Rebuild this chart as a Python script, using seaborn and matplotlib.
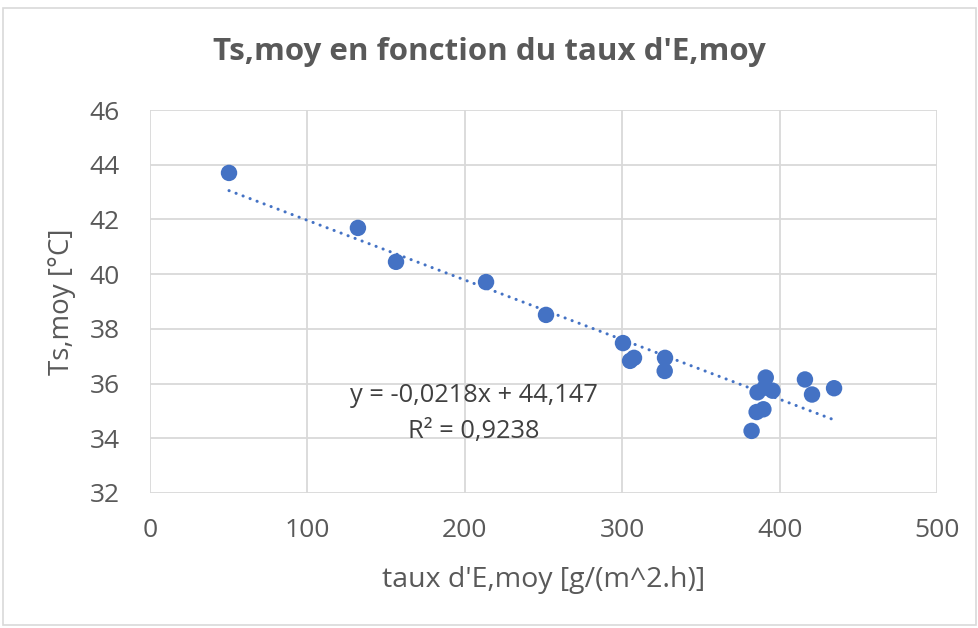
import numpy as np
import pandas as pd
import matplotlib
matplotlib.use("Agg")
import matplotlib.pyplot as plt
import seaborn as sns
from matplotlib.patches import Rectangle

# Measured evaporation rate vs mean surface temperature
taux_e = [50.2, 132.1, 156.3, 213.5, 251.6, 300.5, 305.0, 307.5, 327.2, 327.0,
          382.2, 385.4, 386.0, 389.7, 391.2, 390.5, 395.5, 416.1, 420.6, 434.6]
ts_moy = [43.70, 41.69, 40.45, 39.71, 38.51, 37.48, 36.83, 36.94, 36.94, 36.46,
          34.27, 34.96, 35.68, 35.06, 36.22, 35.85, 35.74, 36.15, 35.60, 35.83]

# Linear trend reported on the chart
slope = -0.0218
intercept = 44.147
r2 = 0.9238

x_ticks = [0, 100, 200, 300, 400, 500]
y_ticks = [32, 34, 36, 38, 40, 42, 44, 46]

title = "Ts,moy en fonction du taux d'E,moy"
x_label = "taux d'E,moy [g/(m^2.h)]"
y_label = "Ts,moy [°C]"

sns.set_theme(style="white")
plt.rcParams["font.family"] = ["Open Sans", "DejaVu Sans"]

text_grey = "#595959"
grid_grey = "#d9d9d9"
blue = "#4472C4"

W, H = 979, 628
fig = plt.figure(figsize=(W / 100, H / 100), dpi=100)
ax = fig.add_axes([150 / W, 1 - 493 / H, (937 - 150) / W, (493 - 110) / H])

df = pd.DataFrame({"x": taux_e, "y": ts_moy})
x0, x1 = min(taux_e), max(taux_e)
trend = pd.DataFrame({"x": [x0, x1], "y": [slope * x0 + intercept, slope * x1 + intercept]})

sns.lineplot(data=trend, x="x", y="y", ax=ax, color=blue, linewidth=2.2,
             linestyle=(0, (0.05, 2.4)), dash_capstyle="round", zorder=2)
sns.scatterplot(data=df, x="x", y="y", ax=ax, color=blue, s=140,
                edgecolor="none", zorder=3)

ax.set_xlim(0, 500)
ax.set_ylim(32, 46)
ax.set_xticks(x_ticks)
ax.set_yticks(y_ticks)
ax.grid(True, color=grid_grey, linewidth=1.3)
ax.set_axisbelow(True)
for s in ax.spines.values():
    s.set_visible(False)
ax.tick_params(axis="both", length=0, labelsize=19, labelcolor=text_grey)
ax.tick_params(axis="x", pad=18)
ax.tick_params(axis="y", pad=22)

ax.set_xlabel(x_label, fontsize=20.5, color=text_grey, va="center")
ax.set_ylabel(y_label, fontsize=20, color=text_grey, va="center")
ax.xaxis.set_label_coords(0.5, (493 - 580) / 383)
ax.yaxis.set_label_coords((62 - 150) / 787, 0.5)

fig.text(0.5, 1 - 52 / H, title, ha="center", va="center", fontsize=22.5,
         fontweight="bold", color=text_grey)

eq = f"y = {slope:.4f}x + {intercept:.3f}".replace(".", ",")
ax.text(206, 35.58, eq, ha="center", va="center", fontsize=18.3, color="#404040")
ax.text(206, 34.23, f"R² = {r2:.4f}".replace(".", ","), ha="center", va="center",
        fontsize=18.3, color="#404040")

fig.patches.append(Rectangle((3 / W, 0.005), 1 - 6 / W, 1 - 0.005 - 8 / H,
                             transform=fig.transFigure, fill=False,
                             edgecolor=grid_grey, linewidth=1.2))

fig.savefig("out.png", dpi=100)
